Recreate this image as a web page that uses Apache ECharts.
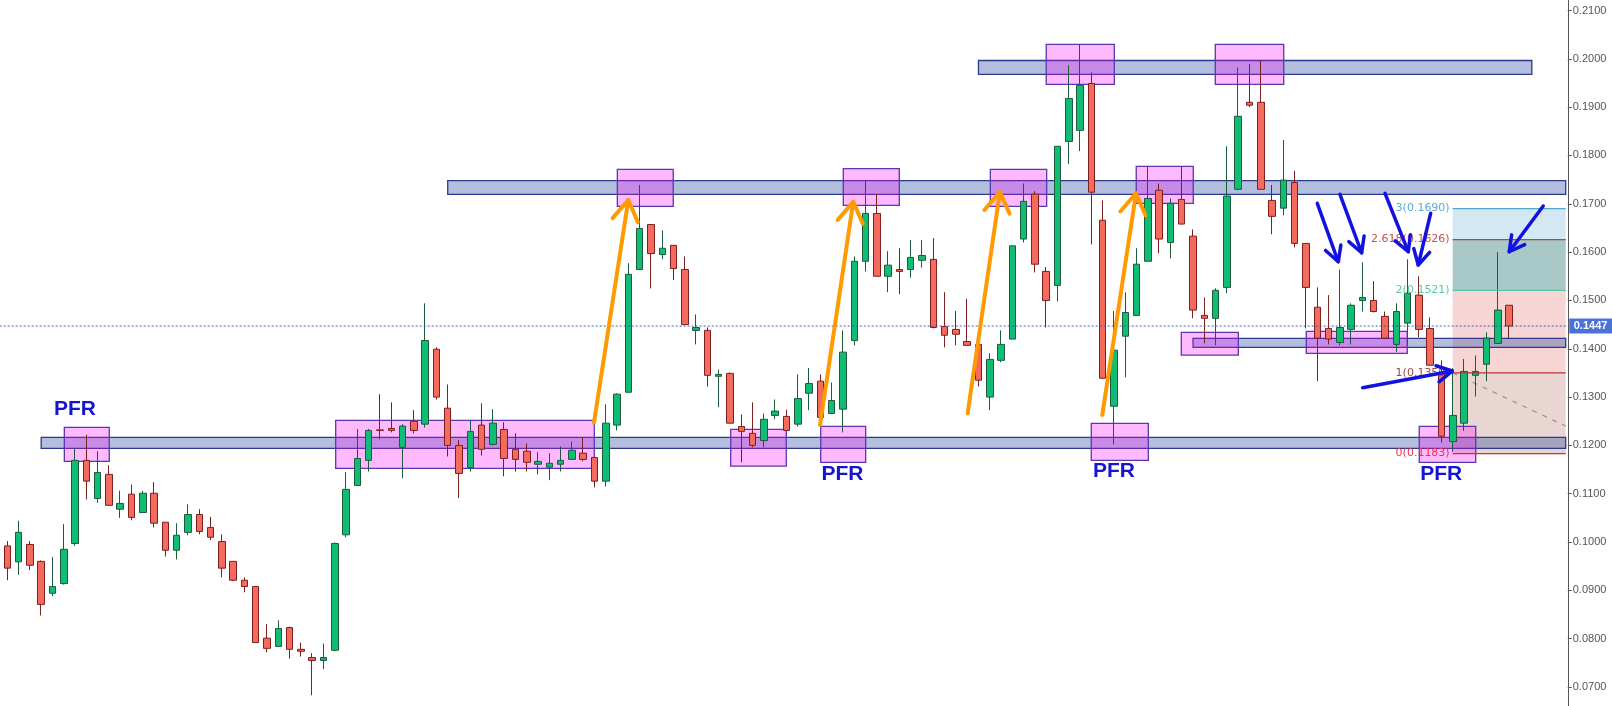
<!DOCTYPE html>
<html>
<head>
<meta charset="utf-8">
<title>PFR chart</title>
<script src="https://cdn.jsdelivr.net/npm/echarts@6/dist/echarts.min.js"></script>
<style>
  html, body { margin: 0; padding: 0; background: #fff; }
  #chart { width: 1612px; height: 706px; }
</style>
</head>
<body>
<div id="chart"></div>
<script>
// candles (open / close / low / high)
const opens = [0.0992,0.0959,0.0995,0.0960,0.0894,0.0914,0.0997,0.1169,0.1090,0.1140,
  0.1068,0.1099,0.1061,0.1101,0.1041,0.0983,0.1020,0.1057,0.1030,0.1001,
  0.0960,0.0921,0.0908,0.0801,0.0784,0.0823,0.0778,0.0761,0.0755,0.0776,
  0.1015,0.1117,0.1169,0.1232,0.1235,0.1196,0.1250,0.1244,0.1399,0.1277,
  0.1200,0.1154,0.1242,0.1202,0.1233,0.1192,0.1188,0.1161,0.1155,0.1161,
  0.1171,0.1184,0.1175,0.1126,0.1242,0.1310,0.1564,0.1657,0.1595,0.1614,
  0.1564,0.1438,0.1438,0.1343,0.1349,0.1239,0.1225,0.1210,0.1262,0.1260,
  0.1244,0.1308,0.1333,0.1266,0.1275,0.1417,0.1581,0.1680,0.1550,0.1564,
  0.1564,0.1583,0.1585,0.1446,0.1440,0.1415,0.1409,0.1300,0.1376,0.1420,
  0.1627,0.1720,0.1560,0.1531,0.1829,0.1852,0.1949,0.1666,0.1281,0.1426,
  0.1469,0.1581,0.1728,0.1620,0.1709,0.1633,0.1469,0.1463,0.1527,0.1730,
  0.1910,0.1910,0.1707,0.1691,0.1744,0.1618,0.1486,0.1442,0.1413,0.1440,
  0.1500,0.1500,0.1467,0.1409,0.1453,0.1511,0.1442,0.1349,0.1208,0.1246,
  0.1345,0.1368,0.1411,0.1490];
const closes = [0.0946,0.1020,0.0952,0.0871,0.0908,0.0985,0.1169,0.1126,0.1144,0.1076,
  0.1080,0.1051,0.1101,0.1039,0.0983,0.1014,0.1057,0.1022,0.1010,0.0946,
  0.0921,0.0908,0.0792,0.0780,0.0821,0.0778,0.0774,0.0755,0.0761,0.0997,
  0.1109,0.1173,0.1231,0.1231,0.1231,0.1240,0.1231,0.1417,0.1300,0.1200,
  0.1142,0.1229,0.1192,0.1246,0.1173,0.1171,0.1165,0.1167,0.1163,0.1169,
  0.1190,0.1171,0.1126,0.1246,0.1306,0.1554,0.1649,0.1597,0.1608,0.1566,
  0.1450,0.1444,0.1345,0.1347,0.1246,0.1229,0.1200,0.1254,0.1271,0.1231,
  0.1297,0.1328,0.1258,0.1293,0.1393,0.1581,0.1680,0.1550,0.1573,0.1560,
  0.1589,0.1593,0.1444,0.1428,0.1430,0.1407,0.1335,0.1378,0.1409,0.1613,
  0.1705,0.1575,0.1500,0.1819,0.1918,0.1945,0.1724,0.1339,0.1397,0.1475,
  0.1575,0.1711,0.1627,0.1701,0.1658,0.1480,0.1463,0.1521,0.1716,0.1881,
  0.1904,0.1730,0.1674,0.1749,0.1618,0.1527,0.1422,0.1420,0.1444,0.1490,
  0.1506,0.1477,0.1422,0.1477,0.1515,0.1440,0.1366,0.1219,0.1262,0.1353,
  0.1353,0.1422,0.1480,0.1447];
const lows = [0.0921,0.0932,0.0942,0.0848,0.0888,0.0912,0.0992,0.1088,0.1081,0.1076,
  0.1050,0.1045,0.1061,0.1030,0.0970,0.0964,0.1014,0.1016,0.1004,0.0927,
  0.0919,0.0896,0.0792,0.0772,0.0784,0.0759,0.0763,0.0683,0.0737,0.0774,
  0.1010,0.1117,0.1146,0.1213,0.1227,0.1132,0.1225,0.1237,0.1295,0.1177,
  0.1091,0.1146,0.1179,0.1200,0.1136,0.1146,0.1146,0.1140,0.1128,0.1146,
  0.1171,0.1167,0.1113,0.1115,0.1231,0.1310,0.1564,0.1525,0.1585,0.1542,
  0.1450,0.1409,0.1322,0.1279,0.1246,0.1165,0.1196,0.1196,0.1254,0.1231,
  0.1239,0.1273,0.1258,0.1266,0.1227,0.1407,0.1560,0.1550,0.1517,0.1513,
  0.1547,0.1568,0.1442,0.1403,0.1407,0.1407,0.1322,0.1273,0.1372,0.1420,
  0.1620,0.1558,0.1444,0.1498,0.1782,0.1809,0.1616,0.1339,0.1202,0.1341,
  0.1469,0.1581,0.1598,0.1587,0.1658,0.1463,0.1411,0.1407,0.1515,0.1728,
  0.1900,0.1730,0.1637,0.1676,0.1610,0.1442,0.1333,0.1409,0.1407,0.1409,
  0.1477,0.1475,0.1422,0.1393,0.1409,0.1424,0.1366,0.1206,0.1187,0.1230,
  0.1301,0.1333,0.1411,0.1422];
const highs = [0.1002,0.1044,0.1002,0.0962,0.0969,0.1037,0.1193,0.1222,0.1188,0.1159,
  0.1106,0.1119,0.1106,0.1124,0.1041,0.1039,0.1078,0.1068,0.1052,0.1016,
  0.0960,0.0927,0.0908,0.0830,0.0838,0.0825,0.0792,0.0770,0.0790,0.0999,
  0.1145,0.1234,0.1234,0.1306,0.1289,0.1244,0.1273,0.1494,0.1403,0.1326,
  0.1211,0.1252,0.1287,0.1275,0.1248,0.1225,0.1204,0.1186,0.1184,0.1198,
  0.1208,0.1217,0.1175,0.1285,0.1308,0.1577,0.1739,0.1657,0.1645,0.1614,
  0.1591,0.1471,0.1444,0.1357,0.1351,0.1264,0.1289,0.1266,0.1295,0.1274,
  0.1347,0.1360,0.1347,0.1330,0.1438,0.1591,0.1749,0.1720,0.1602,0.1608,
  0.1625,0.1625,0.1629,0.1517,0.1478,0.1503,0.1411,0.1391,0.1438,0.1613,
  0.1742,0.1726,0.1569,0.1819,0.1987,0.2030,0.1972,0.1707,0.1478,0.1517,
  0.1608,0.1777,0.1742,0.1711,0.1776,0.1647,0.1506,0.1525,0.1819,0.1982,
  0.1989,0.1996,0.1739,0.1832,0.1768,0.1618,0.1527,0.1511,0.1564,0.1494,
  0.1579,0.1540,0.1477,0.1494,0.1585,0.1550,0.1465,0.1376,0.1360,0.1379,
  0.1386,0.1434,0.1600,0.1490];

const slotCount = 139;      // candle slots incl. empty space on the right
const lastPrice = 0.1447;
const priceTicks = [0.07,0.08,0.09,0.10,0.11,0.12,0.13,0.14,0.15,0.16,0.17,0.18,0.19,0.20,0.21];

// horizontal zones: [fromSlot, toSlot, topPrice, bottomPrice]
const zones = [
  [3.0, 138.0, 0.12167, 0.11940],
  [39.0, 138.0, 0.17478, 0.17196],
  [86.0, 135.0, 0.19965, 0.19680],
  [105.0, 138.0, 0.14216, 0.14030]
];
// pink boxes: [fromSlot, toSlot, topPrice, bottomPrice]
const boxes = [
  [5.05, 9.03, 0.12374, 0.11671],
  [29.08, 51.98, 0.12519, 0.11526],
  [54.02, 58.97, 0.17714, 0.16948],
  [64.06, 68.98, 0.12333, 0.11573],
  [72.03, 76.01, 0.12395, 0.11650],
  [74.03, 78.99, 0.17726, 0.16969],
  [87.05, 92.04, 0.17714, 0.16948],
  [92.0, 98.03, 0.20300, 0.19473],
  [99.97, 105.02, 0.17776, 0.17010],
  [95.99, 101.04, 0.12457, 0.11691],
  [106.97, 113.03, 0.20300, 0.19473],
  [103.96, 109.01, 0.14340, 0.13870],
  [115.03, 123.97, 0.14361, 0.13906],
  [125.03, 130.03, 0.12395, 0.11650]
];
// fibonacci tool
const fibStart = 127.99;
const fibEnd = 138.0;
const fibLevels = [0.1690, 0.1626, 0.1521, 0.1350, 0.1183];
const fibTexts = ['3(0.1690)', '2.618(0.1626)', '2(0.1521)', '1(0.1350)', '0(0.1183)'];
const fibGuide = [127.99, 0.1350, 138.0, 0.1240];
// arrows: [fromSlot, fromPrice, toSlot, toPrice]
const orangeArrows = [
  [51.95, 0.12469, 54.99, 0.17078],
  [71.97, 0.12422, 74.91, 0.17043],
  [85.04, 0.12664, 87.90, 0.17250],
  [96.96, 0.12629, 99.95, 0.17217]
];
const blueArrows = [
  [116.00, 0.17010, 117.86, 0.15801],
  [118.01, 0.17196, 119.93, 0.15987],
  [122.00, 0.17217, 124.06, 0.16008],
  [126.04, 0.16803, 124.94, 0.15733],
  [120.02, 0.13194, 127.95, 0.13539],
  [136.01, 0.16954, 133.00, 0.16008]
];
// PFR captions: [slot, price]
const pfrMarks = [[5.99, 0.12742], [73.96, 0.11408], [98.0, 0.11459], [126.98, 0.11408]];

const yMin = 0.066068;
const yMax = 0.212173;
const fibLineColors = ['#4fa9cf', '#a84a4a', '#55c4a2', '#b83232', '#e52626'];
const fibTextColors = ['#5aaad8', '#c85050', '#5cc8a2', '#9a4a40', '#e8334a'];
const fibFillColors = ['#d4e8f3', '#a9c9c9', '#f6d5d4', '#e9d6d2'];

const cats = [];
for (let i = 0; i < slotCount; i++) cats.push(String(i));
const candleData = opens.map((o, i) => [o, closes[i], lows[i], highs[i]]);

const fibFills = [];
for (let k = 0; k < fibLevels.length - 1; k++) {
  fibFills.push([fibStart, fibEnd, fibLevels[k], fibLevels[k + 1]]);
}

function rectRender(fill, stroke, lw) {
  return function (params, api) {
    const a = api.coord([api.value(0), api.value(2)]);
    const b = api.coord([api.value(1), api.value(3)]);
    return {
      type: 'rect',
      shape: { x: a[0], y: a[1], width: b[0] - a[0], height: b[1] - a[1] },
      style: { fill: fill, stroke: stroke, lineWidth: lw }
    };
  };
}

function arrowRender(color, width, headLen, headAng) {
  return function (params, api) {
    const s = api.coord([api.value(0), api.value(1)]);
    const t = api.coord([api.value(2), api.value(3)]);
    const ang = Math.atan2(s[1] - t[1], s[0] - t[0]);
    const h1 = [t[0] + headLen * Math.cos(ang + headAng), t[1] + headLen * Math.sin(ang + headAng)];
    const h2 = [t[0] + headLen * Math.cos(ang - headAng), t[1] + headLen * Math.sin(ang - headAng)];
    return {
      type: 'group',
      children: [
        { type: 'line', shape: { x1: s[0], y1: s[1], x2: t[0], y2: t[1] },
          style: { stroke: color, lineWidth: width, lineCap: 'round' } },
        { type: 'polyline', shape: { points: [h1, t, h2] },
          style: { stroke: color, lineWidth: width, fill: null, lineCap: 'round', lineJoin: 'round' } }
      ]
    };
  };
}

const base = { type: 'custom', xAxisIndex: 1, yAxisIndex: 0, silent: true, animation: false };

const chart = echarts.init(document.getElementById('chart'));
chart.setOption({
  backgroundColor: '#ffffff',
  animation: false,
  // grid 0 holds the candles, grid 1 only carries the price scale on the right
  grid: [
    { left: 1.65, right: 40.65, top: 0, bottom: 0 },
    { left: 1.65, right: 44.25, top: 0, bottom: 0 }
  ],
  xAxis: [
    { type: 'category', data: cats, boundaryGap: true, show: false, gridIndex: 0 },
    { type: 'value', min: -0.5, max: slotCount - 0.5, show: false, gridIndex: 0 },
    { type: 'value', min: 0, max: 1, show: false, gridIndex: 1 }
  ],
  yAxis: [
    { type: 'value', gridIndex: 0, min: yMin, max: yMax, show: false, splitLine: { show: false } },
    {
      type: 'value',
      gridIndex: 1,
      position: 'right',
      min: yMin,
      max: yMax,
      splitLine: { show: false },
      axisLine: { show: true, onZero: false, lineStyle: { color: '#555', width: 1 } },
      axisTick: { show: true, customValues: priceTicks, length: 4, lineStyle: { color: '#555' } },
      axisLabel: {
        customValues: priceTicks,
        formatter: v => v.toFixed(4),
        color: '#555',
        fontSize: 11,
        fontFamily: 'Liberation Sans',
        margin: 5
      }
    }
  ],
  series: [
    Object.assign({}, base, {
      name: 'fibFill', z: 1, data: fibFills,
      renderItem: function (params, api) {
        const a = api.coord([api.value(0), api.value(2)]);
        const b = api.coord([api.value(1), api.value(3)]);
        return { type: 'rect', shape: { x: a[0], y: a[1], width: b[0] - a[0], height: b[1] - a[1] },
          style: { fill: fibFillColors[params.dataIndex] } };
      }
    }),
    Object.assign({}, base, {
      name: 'fibGuide', z: 1, data: [fibGuide],
      renderItem: function (params, api) {
        const s = api.coord([api.value(0), api.value(1)]);
        const t = api.coord([api.value(2), api.value(3)]);
        return { type: 'line', shape: { x1: s[0], y1: s[1], x2: t[0], y2: t[1] },
          style: { stroke: '#9a9090', lineWidth: 1.2, lineDash: [5, 6] } };
      }
    }),
    Object.assign({}, base, {
      name: 'zones', z: 1, data: zones,
      renderItem: rectRender('rgba(40,69,160,0.35)', '#2b3a8c', 1.3)
    }),
    Object.assign({}, base, {
      name: 'boxes', z: 1, data: boxes,
      renderItem: rectRender('rgba(255,0,255,0.27)', '#5a36b0', 1.3)
    }),
    {
      name: 'price',
      type: 'candlestick',
      xAxisIndex: 0,
      yAxisIndex: 0,
      z: 2,
      barWidth: 7,
      data: candleData,
      itemStyle: {
        color: '#0fbd74',
        color0: '#f46a5c',
        borderColor: '#1e5a3c',
        borderColor0: '#7d1f1f',
        borderWidth: 1
      }
    },
    Object.assign({}, base, {
      name: 'fibLines', z: 3, data: fibLevels.map(v => [fibStart, v]),
      renderItem: function (params, api) {
        const a = api.coord([fibStart, api.value(1)]);
        const b = api.coord([fibEnd, api.value(1)]);
        const i = params.dataIndex;
        return {
          type: 'group',
          children: [
            { type: 'line', shape: { x1: a[0], y1: a[1], x2: b[0], y2: b[1] },
              style: { stroke: fibLineColors[i], lineWidth: 1.2 } },
            { type: 'text', x: a[0] - 3, y: a[1],
              style: { text: fibTexts[i], fill: fibTextColors[i], font: '11px "DejaVu Sans"',
                align: 'right', verticalAlign: 'middle' } }
          ]
        };
      }
    }),
    {
      // current price marker, drawn on the price-scale grid
      name: 'last', type: 'custom', xAxisIndex: 2, yAxisIndex: 1, silent: true, z: 3,
      data: [[1, lastPrice]],
      renderItem: function (params, api) {
        const a = api.coord([0, api.value(1)]);
        const b = api.coord([api.value(0), api.value(1)]);
        return {
          type: 'group',
          children: [
            { type: 'line', shape: { x1: a[0] - 2, y1: a[1], x2: b[0], y2: b[1] },
              style: { stroke: '#3a5bb8', lineWidth: 1, lineDash: [2, 2] } },
            { type: 'rect', shape: { x: b[0] + 1.5, y: b[1] - 7.5, width: 44, height: 15 },
              style: { fill: '#4a72d8' } },
            { type: 'text', x: b[0] + 6, y: b[1],
              style: { text: api.value(1).toFixed(4), fill: '#ffffff',
                font: 'bold 11px "Liberation Sans"', align: 'left', verticalAlign: 'middle' } }
          ]
        };
      }
    },
    Object.assign({}, base, {
      name: 'orangeArrows', z: 4, data: orangeArrows,
      renderItem: arrowRender('#ff9a00', 4, 24, 0.56)
    }),
    Object.assign({}, base, {
      name: 'blueArrows', z: 4, data: blueArrows,
      renderItem: arrowRender('#1212e0', 3.5, 17, 0.5)
    }),
    Object.assign({}, base, {
      name: 'pfr', z: 4, data: pfrMarks,
      renderItem: function (params, api) {
        const p = api.coord([api.value(0), api.value(1)]);
        return { type: 'text', x: p[0], y: p[1],
          style: { text: 'PFR', fill: '#1414d2', font: 'bold 21px "Liberation Sans"',
            align: 'center', verticalAlign: 'middle' } };
      }
    })
  ]
});
</script>
</body>
</html>
